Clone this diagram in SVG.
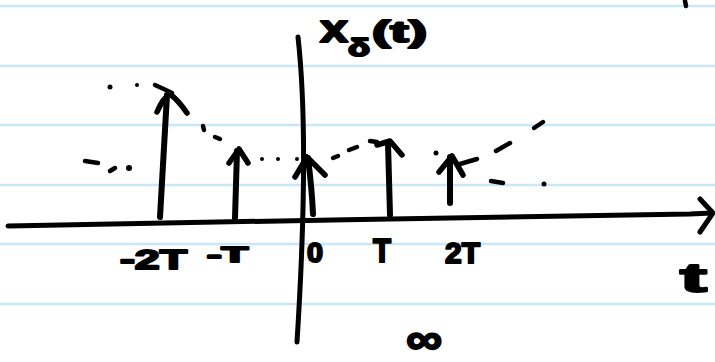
<svg xmlns="http://www.w3.org/2000/svg" width="715" height="362" viewBox="0 0 715 362">
<style>
.rule{stroke:#c9e7fa;stroke-width:2.5}
.ink{fill:none;stroke:#000;stroke-linecap:round;stroke-linejoin:round}
.ax{stroke-width:5}
.stem{stroke-width:6}
.head{stroke-width:5.5}
.dash{stroke-width:4.5}
.dot{fill:#000}
.lbl{font-family:"Liberation Sans",Arial,sans-serif;font-weight:bold;fill:#000;stroke:#000;stroke-width:2;stroke-linejoin:round}
</style>
<rect width="715" height="362" fill="#fff"/>
<g id="paper">
<line class="rule" x1="0" y1="6" x2="715" y2="6"/>
<line class="rule" x1="0" y1="66" x2="715" y2="66"/>
<line class="rule" x1="0" y1="125" x2="715" y2="125"/>
<line class="rule" x1="0" y1="185" x2="715" y2="185"/>
<line class="rule" x1="0" y1="244" x2="715" y2="244"/>
<line class="rule" x1="0" y1="304" x2="715" y2="304"/>
</g>
<g id="connectors">
<path id="t-axis" class="ink ax" d="M8,226 C200,222 500,217 690,214 L712,213"/>
<path id="t-arrowhead" class="ink ax" d="M700,199 L713,213 L700,232"/>
<path id="y-axis" class="ink ax" d="M298,37 C305,100 306,200 297,342"/>
</g>
<g id="impulse-m2T">
<path class="ink stem" d="M160,217 L167,95"/>
<path class="ink head" d="M157,112 Q163,98 170,94 Q178,100 187,113"/>
<path class="ink dash" d="M155,85 Q164,89 172,93"/>
</g>
<g id="impulse-mT">
<path class="ink stem" d="M235,218 L237,151"/>
<path class="ink head" d="M229,163 L239,149 L248,163"/>
</g>
<g id="impulse-0">
<path class="ink stem" d="M313,214 Q312,190 308,158"/>
<path class="ink head" d="M295,177 L307,157 L325,175"/>
</g>
<g id="impulse-T">
<path class="ink stem" d="M390,215 L388,143"/>
<path class="ink head" d="M377,145 L390,141 L402,155"/>
</g>
<g id="impulse-2T">
<path class="ink stem" d="M450,203 L450,157"/>
<path class="ink head" d="M439,172 L452,156 L463,175"/>
<path class="ink dash" d="M460,164 L477,159"/>
</g>
<g id="envelope">
<circle class="dot" cx="110" cy="87" r="2.5"/>
<circle class="dot" cx="137" cy="85" r="2"/>
<path class="ink dash" d="M203,126 L204,130"/>
<path class="ink dash" d="M215,137 L220,139"/>
<circle class="dot" cx="262" cy="159" r="2"/>
<circle class="dot" cx="278" cy="159" r="2"/>
<circle class="dot" cx="297" cy="159" r="2"/>
<path class="ink dash" d="M333,158 L338,156"/>
<path class="ink dash" d="M349,150 L357,147"/>
<path class="ink dash" d="M370,141 L377,142"/>
<circle class="dot" cx="436" cy="153" r="2.5"/>
<path class="ink dash" d="M496,151 L510,143"/>
<path class="ink dash" d="M534,128 L543,122"/>
<path class="ink dash" d="M491,181 L503,183"/>
<circle class="dot" cx="544" cy="184" r="2.5"/>
<path class="ink dash" d="M85,161 L98,163"/>
<path class="ink dash" d="M110,171 L115,168"/>
<circle class="dot" cx="129" cy="168" r="3"/>
<path class="ink dash" d="M685,1 L686,6"/>
</g>
<g id="labels">
<text class="lbl" x="320" y="42" font-size="38" textLength="28" lengthAdjust="spacingAndGlyphs">x</text>
<text class="lbl" x="348" y="56" font-size="24" textLength="22" lengthAdjust="spacingAndGlyphs">δ</text>
<text class="lbl" x="372" y="42" font-size="30" textLength="55" lengthAdjust="spacingAndGlyphs">(t)</text>
<text class="lbl" x="120" y="269" font-size="28" textLength="67" lengthAdjust="spacingAndGlyphs">-2T</text>
<text class="lbl" x="207" y="262" font-size="22" textLength="41" lengthAdjust="spacingAndGlyphs">-T</text>
<text class="lbl" x="307" y="262" font-size="28" textLength="16" lengthAdjust="spacingAndGlyphs">0</text>
<text class="lbl" x="373" y="262" font-size="33" textLength="18" lengthAdjust="spacingAndGlyphs">T</text>
<text class="lbl" x="445" y="263" font-size="30" textLength="35" lengthAdjust="spacingAndGlyphs">2T</text>
<text class="lbl" x="680" y="292" font-size="40" textLength="27" lengthAdjust="spacingAndGlyphs">t</text>
<text class="lbl" x="406" y="354" font-size="44" textLength="36" lengthAdjust="spacingAndGlyphs">∞</text>
</g>
</svg>
